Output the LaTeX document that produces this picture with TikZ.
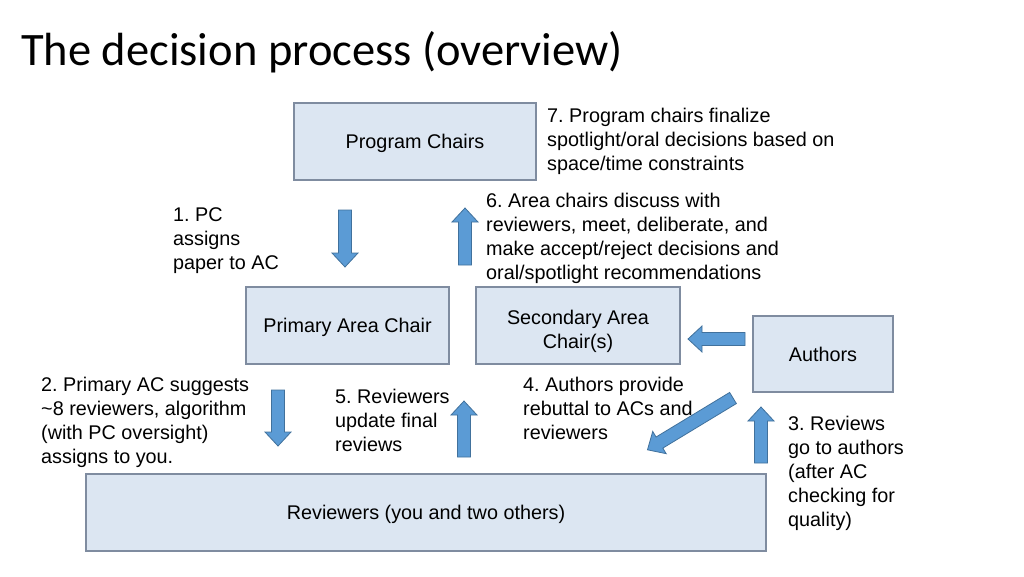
\documentclass[tikz,border=0pt]{standalone}
\usepackage{fontspec}
\setmainfont{Liberation Sans}
\newfontfamily\titlefont{Carlito}
\frenchspacing
\definecolor{boxfill}{HTML}{DCE6F2}
\definecolor{boxline}{HTML}{7F8CA0}
\definecolor{arrfill}{HTML}{5B9BD5}
\definecolor{arrline}{HTML}{41719C}
\newcommand\myblkarrow[4]{%
  \begin{scope}[shift={(#1,#2)},rotate=#3]
    \filldraw[blkarr] (0,-6.5) -- (#4-14,-6.5) -- (#4-14,-13) -- (#4,0) -- (#4-14,13) -- (#4-14,6.5) -- (0,6.5) -- cycle;
  \end{scope}}
\tikzset{
  box/.style={draw=boxline, line width=1.1pt, fill=boxfill, rectangle, inner sep=0pt,
    text depth=0pt, font=\fontsize{19.8}{23.9}\selectfont, align=center},
  lbl/.style={anchor=north west, inner sep=0pt, align=left,
    font=\fontsize{19.8}{24}\selectfont},
  blkarr/.style={fill=arrfill, draw=arrline, line width=0.8pt, line join=miter}
}
\begin{document}
\begin{tikzpicture}[x=1pt,y=-1pt]
\useasboundingbox (0,0) rectangle (1024,576);
\node[anchor=base west, inner sep=0pt, font=\titlefont\fontsize{46.5}{50}\selectfont] (title) at (21,65) {The decision process (overview)};

\node[box, minimum width=242pt, minimum height=77pt] (pc) at (415,141.5) {Program Chairs};
\node[box, minimum width=203pt, minimum height=77pt] (pac) at (347.5,325.5) {Primary Area Chair};
\node[box, minimum width=204pt, minimum height=77pt] (sac) at (578,325.5) {\rule{0pt}{21.5pt}Secondary Area\\Chair(s)};
\node[box, minimum width=140pt, minimum height=76pt] (auth) at (823,354) {Authors};
\node[box, minimum width=680pt, minimum height=77pt] (rev) at (426,512.5) {Reviewers (you and two others)};

\node[lbl] (t7) at (547,108) {7. Program chairs finalize\\spotlight/oral decisions based on\\space/time constraints};
\node[lbl] (t6) at (486,193) {6. Area chairs discuss with\\reviewers, meet, deliberate, and\\make accept/reject decisions and\\oral/spotlight recommendations};
\node[lbl] (t1) at (173,207) {1. PC\\assigns\\paper to AC};
\node[lbl] (t2) at (41,377) {2. Primary AC suggests\\\textasciitilde8 reviewers, algorithm\\(with PC oversight)\\assigns to you.};
\node[lbl] (t5) at (335,389) {5. Reviewers\\update final\\reviews};
\node[lbl] (t4) at (523,377) {4. Authors provide\\rebuttal to ACs and\\reviewers};
\node[lbl] (t3) at (788,416) {3. Reviews\\go to authors\\(after AC\\checking for\\quality)};

\myblkarrow{345}{210}{-90}{57}
\myblkarrow{465}{265}{90}{57}
\myblkarrow{745}{339}{180}{57}
\myblkarrow{733}{398}{211.2}{100}
\myblkarrow{761}{463}{90}{56}
\myblkarrow{278}{390}{-90}{56}
\myblkarrow{464}{457}{90}{56}
\end{tikzpicture}
\end{document}
